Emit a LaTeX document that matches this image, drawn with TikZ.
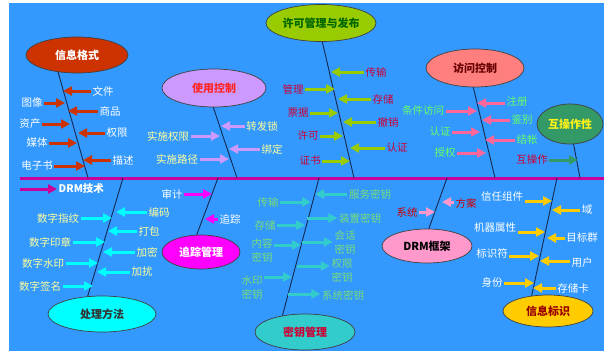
\documentclass[tikz,border=0pt]{standalone}
\usepackage{fontspec}
\setmainfont{Noto Sans CJK SC}
\usetikzlibrary{shapes.geometric,arrows.meta}
\definecolor{bgblue}{HTML}{3399FF}
\definecolor{axiscol}{HTML}{CC0099}
\definecolor{spinecol}{HTML}{142850}
\definecolor{fmtcol}{HTML}{CC3300}
\definecolor{usecol}{HTML}{CC99FF}
\definecolor{liccol}{HTML}{99CC00}
\definecolor{acccol}{HTML}{FF7F7F}
\definecolor{accarr}{HTML}{FF6699}
\definecolor{iopcol}{HTML}{339966}
\definecolor{proccol}{HTML}{00FFFF}
\definecolor{trkcol}{HTML}{FF00FF}
\definecolor{keycol}{HTML}{33CCCC}
\definecolor{drmcol}{HTML}{FF99CC}
\definecolor{infcol}{HTML}{FFCC00}
\definecolor{paleyel}{HTML}{FFFF99}
\definecolor{redtxt}{HTML}{CC0033}
\definecolor{lgreen}{HTML}{66FF66}
\definecolor{mgreen}{HTML}{77DD77}

\begin{document}
\begin{tikzpicture}[x=1pt,y=-1pt,
    bubble/.style={ellipse,draw=black!75,line width=0.7pt,inner sep=0pt,
      font=\fontsize{11}{13}\selectfont\bfseries},
    lbl/.style={inner sep=1.5pt,align=center,font=\fontsize{10.5}{14}\selectfont},
    arr/.style={line width=3pt,-{Triangle[length=9pt,width=9pt]}},
    spine/.style={draw=spinecol,line width=0.9pt}]
\useasboundingbox (0,0) rectangle (604,351);
\fill[bgblue] (9,3) rectangle (604,351);

\coordinate (axisL) at (20,178);
\coordinate (axisR) at (604,178);
\draw[axiscol,line width=3pt] (axisL) -- (axisR);
\coordinate (tech-s) at (20,189);
\node[lbl,text=white,font=\fontsize{10.5}{14}\selectfont\bfseries,anchor=west] (tech) at (57,189) {DRM技术};
\draw[arr,axiscol] (tech-s) -- (tech.west);

\node[bubble,fill=fmtcol,text=white,minimum width=102pt,minimum height=36pt] (fmt) at (77,55) {信息格式};
\node[bubble,fill=usecol,text=red!80!pink,minimum width=104pt,minimum height=38pt] (use) at (214,88) {使用控制};
\node[bubble,fill=liccol,text=green!40!black,minimum width=110pt,minimum height=37pt] (lic) at (321,23) {许可管理与发布};
\node[bubble,fill=acccol,text=black!60!red,minimum width=98pt,minimum height=38pt] (acc) at (475,68) {访问控制};
\node[bubble,fill=iopcol,text=yellow!90!white,minimum width=66pt,minimum height=40pt] (iop) at (570,124) {互操作性};
\node[bubble,fill=proccol,text=black!80,minimum width=108pt,minimum height=36pt] (proc) at (102,314) {处理方法};
\node[bubble,fill=trkcol,text=white,minimum width=78pt,minimum height=34pt] (trk) at (201,252) {追踪管理};
\node[bubble,fill=keycol,text=redtxt,minimum width=100pt,minimum height=36pt] (key) at (305,332) {密钥管理};
\node[bubble,fill=drmcol,text=black,minimum width=90pt,minimum height=34pt] (drm) at (427,246) {DRM框架};
\node[bubble,fill=infcol,text=red!60!black,minimum width=90pt,minimum height=32pt] (inf) at (548,311) {信息标识};

\coordinate (fmt-b) at (88,178);
\coordinate (use-b) at (237,178);
\coordinate (lic-b) at (354,178);
\coordinate (acc-b) at (495,178);
\coordinate (iop-b) at (580,178);
\coordinate (proc-b) at (123,178);
\coordinate (trk-b) at (218,178);
\coordinate (key-b) at (319,178);
\coordinate (drm-b) at (447,178);
\coordinate (inf-b) at (557,178);
\draw[spine] (fmt.222) -- (fmt-b);
\draw[spine] (use.268) -- (use-b);
\draw[spine] (lic.274) -- (lic-b);
\draw[spine] (acc.265) -- (acc-b);
\draw[spine] (iop.280) -- (iop-b);
\draw[spine] (proc.129) -- (proc-b);
\draw[spine] (trk.104) -- (trk-b);
\draw[spine] (key.144) -- (key-b);
\draw[spine] (drm.84) -- (drm-b);
\draw[spine] (inf.137) -- (inf-b);

\foreach \n/\t/\p/\a/\s in {f1/文件/{103,91}/west/{63,91}, f2/图像/{32,103}/east/{65,103},
    f3/商品/{110,111}/west/{68,111}, f4/资产/{30,124}/east/{70,124},
    f5/权限/{117,133}/west/{78,133}, f6/媒体/{37,143}/east/{77,143},
    f7/描述/{123,160}/west/{83,160}, f8/电子书/{37,166}/east/{85,166}} {
  \node[lbl,text=white] (\n) at (\p) {\t};
  \coordinate (\n-s) at (\s);
  \draw[arr,fmtcol] (\n.\a |- \n-s) -- (\n-s);
}

\foreach \n/\t/\p/\a/\s in {u1/转发锁/{262,126}/west/{221,126}, u2/实施权限/{168,136}/east/{220,136},
    u3/绑定/{272,149}/west/{229,149}, u4/实施路径/{177,159}/east/{229,159}} {
  \node[lbl,text=paleyel] (\n) at (\p) {\t};
  \coordinate (\n-s) at (\s);
  \draw[arr,usecol] (\n.\a |- \n-s) -- (\n-s);
}

\foreach \n/\t/\p/\a/\s in {l1/传输/{376,72}/west/{331,72}, l2/管理/{293,89}/east/{335,89},
    l3/存储/{383,99}/west/{338,99}, l4/票据/{298,113}/east/{338,113},
    l5/撤销/{388,122}/west/{343,122}, l6/许可/{308,136}/east/{343,136},
    l7/认证/{397,148}/west/{350,148}, l8/证书/{310,161}/east/{350,161}} {
  \node[lbl,text=redtxt] (\n) at (\p) {\t};
  \coordinate (\n-s) at (\s);
  \draw[arr,liccol] (\n.\a |- \n-s) -- (\n-s);
}

\foreach \n/\t/\p/\a/\s in {a1/注册/{517,102}/west/{477,103}, a2/条件访问/{423,111}/east/{477,111},
    a3/鉴别/{522,120}/west/{482,120}, a4/认证/{440,132}/east/{480,132},
    a5/结帐/{527,140}/west/{485,140}, a6/授权/{445,153}/east/{486,153}} {
  \node[lbl,text=lgreen] (\n) at (\p) {\t};
  \coordinate (\n-s) at (\s);
  \draw[arr,accarr] (\n.\a |- \n-s) -- (\n-s);
}

\node[lbl,text=redtxt] (i1) at (532,160) {互操作};
\coordinate (i1-s) at (578,160);
\draw[arr,iopcol] (i1.east) -- (i1-s);

\foreach \n/\t/\p/\a/\s in {p1/编码/{159,212}/west/{116,212}, p2/数字指纹/{58,218}/east/{112,218},
    p3/打包/{149,231}/west/{108,231}, p4/数字印章/{50,242}/east/{105,242},
    p5/加密/{147,252}/west/{103,252}, p6/数字水印/{43,263}/east/{98,263},
    p7/加扰/{142,272}/west/{97,272}, p8/数字签名/{40,286}/east/{93,286}} {
  \node[lbl,text=paleyel] (\n) at (\p) {\t};
  \coordinate (\n-s) at (\s);
  \draw[arr,proccol] (\n.\a |- \n-s) -- (\n-s);
}

\foreach \n/\t/\p/\a/\s in {t1/审计/{172,194}/east/{212,194}, t2/追踪/{230,219}/west/{205,219}} {
  \node[lbl,text=white] (\n) at (\p) {\t};
  \coordinate (\n-s) at (\s);
  \draw[arr,trkcol] (\n.\a |- \n-s) -- (\n-s);
}

\foreach \n/\t/\p/\a/\s in {k1/服务密钥/{370,194}/west/{315,194}, k2/传输/{268,202}/east/{311,202},
    k3/存储/{265,225}/east/{305,225}, k4/内容\\密钥/{262,250}/east/{301,245},
    k5/水印\\密钥/{252,288}/east/{292,277}} {
  \node[lbl,text=mgreen] (\n) at (\p) {\t};
  \coordinate (\n-s) at (\s);
  \draw[arr,keycol] (\n.\a |- \n-s) -- (\n-s);
}
\foreach \n/\t/\p/\s in {k6/装置密钥/{360,218}/{307,218}, k7/会话\\密钥/{345,243}/{302,242},
    k8/权限\\密钥/{342,271}/{297,266}, k9/系统密钥/{343,295}/{288,294}} {
  \node[lbl,text=mgreen] (\n) at (\p) {\t};
  \coordinate (\n-s) at (\s);
  \draw[arr,keycol] (\n-s) -- (\n.west |- \n-s);
}

\foreach \n/\t/\p/\a/\s in {d1/方案/{466,203}/west/{442,202}, d2/系统/{407,212}/east/{435,212}} {
  \node[lbl,text=red!80!black] (\n) at (\p) {\t};
  \coordinate (\n-s) at (\s);
  \draw[arr,drmcol] (\n.\a |- \n-s) -- (\n-s);
}

\foreach \n/\t/\p/\a/\s in {m1/信任组件/{502,197}/east/{552,201}, m2/域/{587,210}/west/{552,210},
    m3/机器属性/{495,228}/east/{545,232}, m4/目标群/{582,238}/west/{547,238},
    m5/标识符/{492,253}/east/{539,256}, m6/用户/{582,263}/west/{540,261},
    m7/身份/{492,283}/east/{534,283}, m8/存储卡/{573,288}/west/{533,288}} {
  \node[lbl,text=white] (\n) at (\p) {\t};
  \coordinate (\n-s) at (\s);
  \draw[arr,infcol] (\n.\a |- \n-s) -- (\n-s);
}
\end{tikzpicture}
\end{document}
